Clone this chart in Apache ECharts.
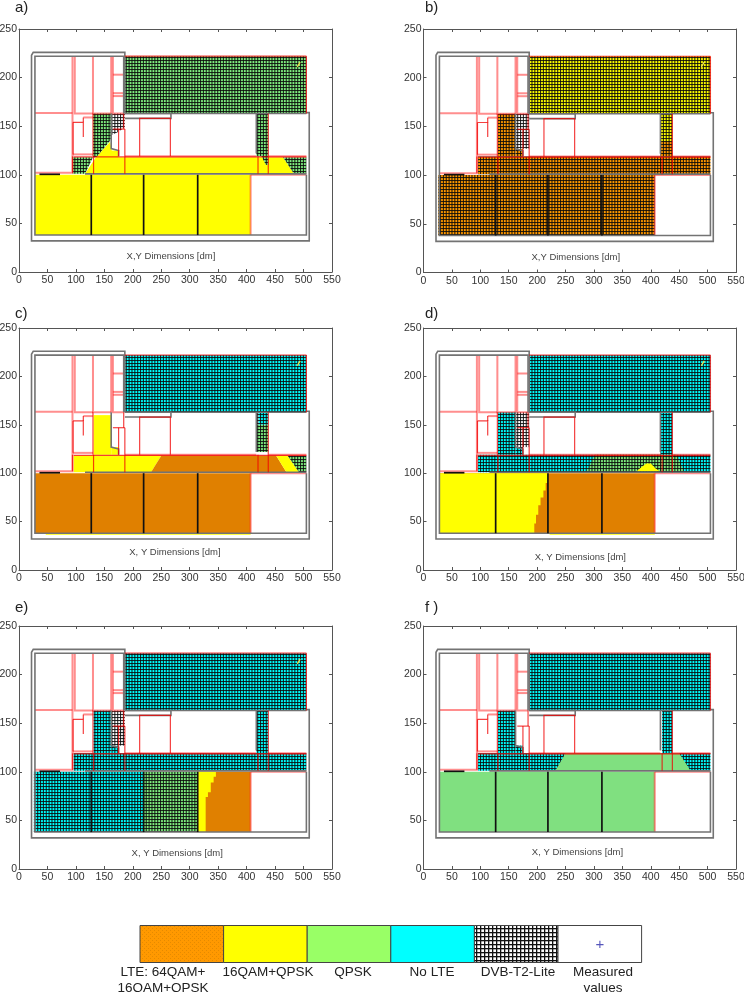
<!DOCTYPE html>
<html><head><meta charset="utf-8">
<style>html,body{margin:0;padding:0;background:#fff}#c{width:744px;height:992px}</style>
<script src="https://cdn.jsdelivr.net/npm/echarts@6/dist/echarts.min.js"></script>
</head><body><div id="c"></div>
<script>
// ---------- tick values ----------
const xTicks = [0,50,100,150,200,250,300,350,400,450,500,550];
const yTicks = [0,50,100,150,200,250];
const panelLetters = ['a)','b)','c)','d)','e)','f )'];
const captions = ['X,Y Dimensions [dm]','X,Y Dimensions [dm]','X, Y Dimensions [dm]','X, Y Dimensions [dm]','X, Y Dimensions [dm]','X, Y Dimensions [dm]'];
const captionAt = [[267,16],[268,16],[274,18],[276,13],[278,16],[271,17]];
const legendNames = ['LTE: 64QAM+\n16QAM+QPSK','16QAM+QPSK','QPSK','No LTE','DVB-T2-Lite','Measured\nvalues'];

// ---------- floor zones [dm] ----------
const HALL = [[186,163],[505,163],[505,222],[186,222]];
const ROOMS = [[28,38],[407,38],[407,100],[28,100]];
const ROOMS_WIDE = [[26,38],[407,38],[407,100],[26,100]];
const CORRIDOR = [[96,101],[505,101],[505,119],[96,119]];
const V1 = [[131,119],[162,119],[162,163],[131,163]];
const V1_STEP = [[162,119],[175,119],[175,127],[162,127]];
const V1_SIDE = [[162,127],[186,127],[186,163],[162,163]];
const V2 = [[417,119],[438,119],[438,163],[417,163]];

// ---------- coverage per panel ----------
const regionsA = [
  ['solidYellow',ROOMS],
  ['solidYellow',[[116,101],[134,117],[160,134],[163,125],[175,125],[175,118],[464,118],[483,101]]],
  ['hatchGreen',HALL],
  ['hatchGreen',[[94,118],[130,118],[116,101],[94,101]]],
  ['hatchGreen',[[464,118],[505,118],[505,101],[483,101]]],
  ['hatchGreen',[[130,163],[164,163],[164,142],[160,135],[136,118],[130,118]]],
  ['hatchWhite',[[164,163],[186,163],[186,149],[174,144],[164,141]]],
  ['hatchGreen',[[417,163],[438,163],[438,110],[434,110],[426,119],[417,119]]]
];
const regionsB = [
  ['hatchYellow',HALL],
  ['hatchOrange',ROOMS_WIDE],
  ['hatchOrange',CORRIDOR],
  ['hatchOrange',V1],
  ['hatchOrange',V1_STEP],
  ['hatchWhite',V1_SIDE],
  ['hatchYellow',[[417,135],[438,135],[438,163],[417,163]]],
  ['hatchOrange',[[417,119],[438,119],[438,135],[417,135]]]
];
const regionsC = [
  ['solidOrange',ROOMS],
  ['solidYellow',[[47,36.5],[407,36.5],[407,38],[47,38]]],
  ['hatchCyan',HALL],
  ['solidYellow',[[131,119],[162,119],[162,160],[131,160]]],
  ['solidYellow',V1_STEP],
  ['solidYellow',[[96,101],[232,101],[250,118],[96,118]]],
  ['solidOrange',[[232,101],[250,118],[452,118],[470,101]]],
  ['solidYellow',[[452,118],[472,118],[492,101],[470,101]]],
  ['hatchGreen',[[472,118],[505,118],[505,101],[492,101]]],
  ['hatchCyan',[[420,150],[438,150],[438,163],[420,163]]],
  ['hatchWhite',[[417,150],[421,150],[421,163],[417,163]]],
  ['hatchGreen',[[417,122],[438,122],[438,150],[417,150]]]
];
const regionsD = [
  ['solidOrange',ROOMS],
  ['solidYellow',[[28,38],[195,38],[195,48],[198,48],[198,57],[202,57],[202,67],[206,67],[206,75],[211,75],[211,82],[215,82],[215,90],[219,90],[219,100],[28,100]]],
  ['solidYellow',[[222,36.5],[407,36.5],[407,38],[222,38]]],
  ['hatchCyan',HALL],
  ['hatchCyan',CORRIDOR],
  ['hatchCyan',V1],
  ['hatchCyan',V1_STEP],
  ['hatchWhite',V1_SIDE],
  ['hatchCyan',V2],
  ['hatchGreen',[[287,102],[302,119],[446,119],[458,102]]],
  ['solidYellow',[[375,102],[385,107],[392,110],[400,110],[408,105],[416,102]]]
];
const regionsE = [
  ['solidOrange',[[314,38],[407,38],[407,100],[314,100]]],
  ['solidYellow',[[314,38],[328,38],[328,74],[332,74],[332,79],[337,79],[337,89],[342,89],[342,95],[346,95],[346,100],[314,100]]],
  ['hatchCyan',HALL],
  ['hatchCyan',CORRIDOR],
  ['hatchCyan',V1],
  ['hatchCyan',V1_STEP],
  ['hatchWhite',V1_SIDE],
  ['hatchCyan',V2],
  ['hatchCyan',[[26,38],[219,38],[219,100],[26,100]]],
  ['hatchGreen',[[219,38],[314,38],[314,100],[219,100]]]
];
const regionsF = [
  ['solidGreen',ROOMS],
  ['hatchCyan',HALL],
  ['hatchCyan',CORRIDOR],
  ['solidGreen',[[232,101],[250,119],[450,119],[470,101]]],
  ['hatchCyan',V1],
  ['hatchCyan',V1_STEP],
  ['hatchCyan',[[420,119],[438,119],[438,163],[420,163]]]
];
const allRegions = [regionsA,regionsB,regionsC,regionsD,regionsE,regionsF];

// ---------- walls ----------
const wallsPink = [
  [[28,163.5],[94,163.5]],
  [[94,222],[94,102],[28,102]],
  [[98,222],[98,163],[130,163]],
  [[130,222],[130,163],[162,163]],
  [[162,222],[162,163]],
  [[165,222],[165,163],[184,163]],
  [[165,203],[184,203]],[[165,184],[184,184]],[[165,181],[184,181]],
  [[95,121],[130,121]],
  [[113,159],[130,159]],
  [[186,119],[417,119]],[[438,119],[505,119]],
  [[407,100],[505,100]],
  [[407,38],[407,100]]
];
const wallsRed = [
  [[212,119],[212,158],[266,158],[266,119]],
  [[186,119],[186,147]],[[175,119],[175,147]],[[165,147],[186,147]],[[184,147],[184,163]],
  [[438,119],[438,163]],
  [[130,163],[130,119]],
  [[95,154],[113,154],[113,139]],[[113,159],[113,154]],[[95,154],[95,121]],
  [[131,119],[131,101]],[[186,119],[186,101]],[[420,119],[420,101]],[[438,119],[438,101]],
  [[94,119],[94,102]],[[96,118.5],[505,118.5]],
  [[505,163],[505,222]],[[186,222],[505,222]]
];
const wallsGray = [
  [[186,163],[186,226],[25,226],[22,223],[22,32],[510,32],[510,164],[505,164]],
  [[184,163],[184,222],[28,222],[28,38],[505,38],[505,100]],
  [[186,163],[267,163],[267,158],[186,158]],
  [[116,101],[505,101]],
  [[162,163],[162,127],[175,125],[175,119]],
  [[417,163],[417,122]],[[186,163],[505,163]]
];
const wallsBlack = [
  [[127,38],[127,100]],[[219,38],[219,100]],[[314,38],[314,100]],
  [[36,100.5],[72,100.5]]
];
const probeMark = [[489,211],[494,216]];

// ---------- styles and layout ----------
const panels = [
  {left:19,top:29,width:313,height:243},
  {left:423.5,top:29,width:312.5,height:243.5},
  {left:19,top:328,width:313,height:242},
  {left:423.5,top:328,width:312.5,height:242},
  {left:19,top:626,width:313,height:243},
  {left:423.5,top:626,width:312.5,height:243}
];
function hatch(color){
  const c=document.createElement('canvas');c.width=20;c.height=3;
  const g=c.getContext('2d');g.fillStyle=color;g.fillRect(0,0,20,3);
  g.fillStyle='rgba(10,10,10,.85)';
  for(let i=0;i<7;i++){g.fillRect(i*20/7,0,1.1,3);}
  g.fillRect(0,0,20,1.05);
  return {type:'pattern',image:c,repeat:'repeat'};
}
const fills = {
  solidYellow:'#ffff00',solidOrange:'#e08000',solidGreen:'#80e080',
  hatchGreen:hatch('#80ee80'),hatchCyan:hatch('#00ffff'),hatchYellow:hatch('#ffff00'),
  hatchOrange:hatch('#ff9900'),hatchWhite:hatch('#ffffff')
};
function legendPattern(kind){
  const c=document.createElement('canvas');
  const g=c.getContext('2d');
  if(kind==='grid'){
    c.width=c.height=4;g.fillStyle='#fff';g.fillRect(0,0,4,4);
    g.fillStyle='#111';g.fillRect(0,0,4,1.3);g.fillRect(0,0,1.3,4);
  } else {
    c.width=c.height=4;g.fillStyle='#ff9900';g.fillRect(0,0,4,4);
    g.fillStyle='#e58a00';g.fillRect(0,0,1,1);g.fillRect(2,2,1,1);
  }
  return {type:'pattern',image:c,repeat:'repeat'};
}
const polyItem=(pts,api,style)=>({type:'polyline',shape:{points:pts.map(p=>api.coord(p))},style:Object.assign({fill:null},style)});

const grid=[],xAxis=[],yAxis=[],series=[];
const axisColor='#555';
panels.forEach((p,i)=>{
  grid.push(Object.assign({outerBoundsMode:'none'},p));
  const base={min:0,axisLine:{onZero:false,lineStyle:{color:axisColor,width:1}},splitLine:{show:false},
    axisTick:{inside:true,length:3,lineStyle:{color:axisColor}}};
  xAxis.push(Object.assign({},base,{gridIndex:i,type:'value',max:xTicks[xTicks.length-1],interval:xTicks[1]-xTicks[0],position:'bottom',
    axisLabel:{color:'#333',fontSize:10.5,fontFamily:'Liberation Sans',margin:3,hideOverlap:false}}));
  xAxis.push(Object.assign({},base,{gridIndex:i,type:'value',max:xTicks[xTicks.length-1],interval:xTicks[1]-xTicks[0],position:'top',axisLabel:{show:false}}));
  yAxis.push(Object.assign({},base,{gridIndex:i,type:'value',max:yTicks[yTicks.length-1],interval:yTicks[1]-yTicks[0],position:'left',
    axisLabel:{color:'#333',fontSize:10.5,fontFamily:'Liberation Sans',margin:2}}));
  yAxis.push(Object.assign({},base,{gridIndex:i,type:'value',max:yTicks[yTicks.length-1],interval:yTicks[1]-yTicks[0],position:'right',axisLabel:{show:false}}));
  const ax={xAxisIndex:2*i,yAxisIndex:2*i};
  const regs=allRegions[i];
  series.push(Object.assign({type:'custom',silent:true,animation:false,clip:true,z:2,
    data:regs.map((r,k)=>[k]),
    renderItem:(params,api)=>{
      const r=regs[params.dataIndex];
      return {type:'polygon',shape:{points:r[1].map(pt=>api.coord(pt))},style:{fill:fills[r[0]]}};
    }},ax));
  const wallGroups=[
    [wallsPink,{stroke:'rgba(255,30,30,.5)',lineWidth:2}],
    [wallsGray,{stroke:'#737373',lineWidth:1.6}],
    [wallsRed,{stroke:'rgba(240,0,0,.75)',lineWidth:1.2}],
    [wallsBlack,{stroke:'#111',lineWidth:1.7}]
  ];
  wallGroups.forEach(([list,style])=>{
    series.push(Object.assign({type:'custom',silent:true,animation:false,z:3,
      data:list.map((w,k)=>[k]),
      renderItem:(params,api)=>polyItem(list[params.dataIndex],api,style)},ax));
  });
  if(i!==5){
    series.push(Object.assign({type:'custom',silent:true,animation:false,z:4,data:[[0]],
      renderItem:(params,api)=>polyItem(probeMark,api,{stroke:'#e8e050',lineWidth:1.4})},ax));
  }
  series.push(Object.assign({type:'custom',silent:true,animation:false,z:5,data:[[0]],
    renderItem:(params,api)=>{
      const c=api.coord(captionAt[i]);
      return {type:'text',x:c[0],y:c[1],style:{text:captions[i],fill:'#444',fontSize:9.5,fontFamily:'Liberation Sans',align:'center',verticalAlign:'middle'}};
    }},ax));
});

// legend and panel letters
const graphic=[];
const letterPos=[[15,8],[425,8],[15,314],[425,314],[15,608],[425,608]];
panelLetters.forEach((t,i)=>graphic.push({type:'text',x:letterPos[i][0],y:letterPos[i][1],
  style:{text:t,fill:'#222',fontSize:15,fontFamily:'Liberation Sans',verticalAlign:'middle'}}));
const legendFills=[legendPattern('dots'),'#ffff00','#99ff66','#00ffff',legendPattern('grid'),'#fff'];
const legendX=140,legendW=83.6,legendY=925.5,legendH=37;
legendFills.forEach((f,i)=>{
  graphic.push({type:'rect',shape:{x:legendX+i*legendW,y:legendY,width:legendW,height:legendH},style:{fill:f,stroke:'#444',lineWidth:1}});
});
graphic.push({type:'text',x:600,y:945,style:{text:'+',fill:'#5555bb',fontSize:15,fontFamily:'Liberation Sans',align:'center',verticalAlign:'middle'}});
const legendCx=[163,268,353,432,518,603];
legendNames.forEach((t,i)=>graphic.push({type:'text',x:legendCx[i],y:964,
  style:{text:t,fill:'#222',fontSize:13.5,lineHeight:16,fontFamily:'Liberation Sans',align:'center',verticalAlign:'top'}}));

const chart=echarts.init(document.getElementById('c'),null,{renderer:'canvas'});
chart.setOption({backgroundColor:'#fff',animation:false,grid,xAxis,yAxis,series,graphic});
</script></body></html>
